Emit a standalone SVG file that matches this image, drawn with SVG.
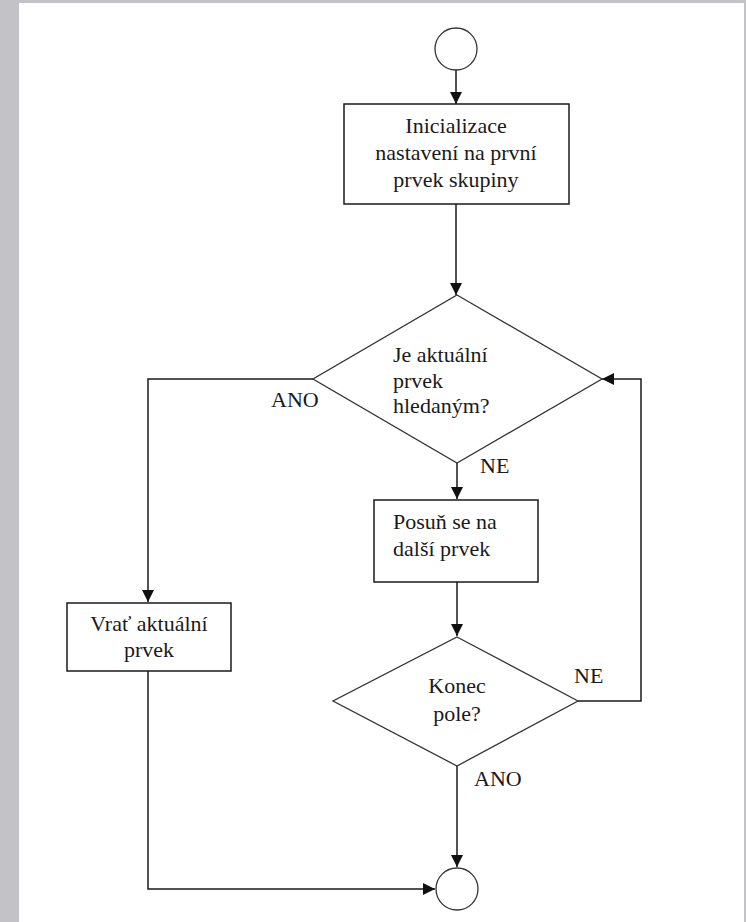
<svg xmlns="http://www.w3.org/2000/svg" width="746" height="922" viewBox="0 0 746 922">
<style>
.bg{fill:#c3c2c7}
.box{fill:#fff;stroke:#1a1a1a;stroke-width:1.5}
.dia{fill:#fff;stroke:#333;stroke-width:1.3}
.circ{fill:#fff;stroke:#333;stroke-width:1.3}
.ln{fill:none;stroke:#1a1a1a;stroke-width:1.5}
.t{font-size:22px;fill:#1a1a1a}
.c{text-anchor:middle}
</style>
<defs>
<marker id="ah" markerWidth="12" markerHeight="12" viewBox="0 0 12 12" refX="12" refY="6" orient="auto" markerUnits="userSpaceOnUse">
<path d="M0,0 L12,6 L0,12 Z" fill="#111"/>
</marker>
</defs>
<rect x="0" y="0" width="746" height="922" class="bg"/>
<rect x="19" y="3" width="725" height="919" fill="#fff"/>

<g font-family="'Liberation Serif', 'DejaVu Serif', serif">
<g id="connectors">
<path class="ln" d="M456,70 V104" marker-end="url(#ah)"/>
<path class="ln" d="M456,204 V295" marker-end="url(#ah)"/>
<path class="ln" d="M313,379 H148 V602" marker-end="url(#ah)"/>
<path class="ln" d="M457,463 V499" marker-end="url(#ah)"/>
<path class="ln" d="M457,582 V636" marker-end="url(#ah)"/>
<path class="ln" d="M578,701 H641 V379 H602" marker-end="url(#ah)"/>
<path class="ln" d="M457,766 V867" marker-end="url(#ah)"/>
<path class="ln" d="M148,671 V889 H435" marker-end="url(#ah)"/>
<text class="t" x="271" y="407">ANO</text>
<text class="t" x="480" y="473">NE</text>
<text class="t" x="574" y="683">NE</text>
<text class="t" x="474" y="786">ANO</text>
</g>

<g id="start">
<circle class="circ" cx="456" cy="49" r="21"/>
</g>

<g id="init">
<rect class="box" x="344" y="104" width="225" height="100"/>
<text class="t c" x="456" y="133">Inicializace</text>
<text class="t c" x="456" y="160">nastavení na první</text>
<text class="t c" x="456" y="187">prvek skupiny</text>
</g>

<g id="decision1">
<polygon class="dia" points="457,295 602,379 457,463 313,379"/>
<text class="t" x="393" y="362">Je aktuální</text>
<text class="t" x="393" y="388">prvek</text>
<text class="t" x="393" y="413">hledaným?</text>
</g>

<g id="next">
<rect class="box" x="374" y="500" width="164" height="82"/>
<text class="t" x="393" y="529">Posuň se na</text>
<text class="t" x="393" y="556">další prvek</text>
</g>

<g id="decision2">
<polygon class="dia" points="457,637 578,701 457,766 333,701"/>
<text class="t c" x="457" y="693">Konec</text>
<text class="t c" x="457" y="721">pole?</text>
</g>

<g id="return">
<rect class="box" x="67" y="603" width="164" height="68"/>
<text class="t c" x="149" y="631">Vrať aktuální</text>
<text class="t c" x="149" y="657">prvek</text>
</g>

<g id="end">
<circle class="circ" cx="457" cy="889" r="21"/>
</g>
</g>
</svg>
